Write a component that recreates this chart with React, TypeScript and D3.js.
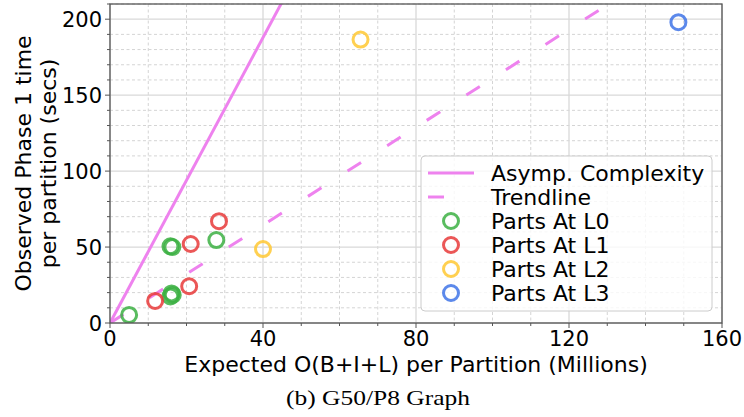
import React, { useEffect, useRef } from "react";
import * as d3 from "d3";

// scatter data (x in millions, y in secs)
const l0X = [5, 15.8, 16.3, 15.8, 16.1, 16.4, 27.8];
const l0Y = [5.3, 50.5, 50, 17.5, 19.5, 18.5, 54.6];
const l1X = [11.8, 20.7, 21.1, 28.5];
const l1Y = [14.5, 24.2, 52, 67];
const l2X = [40, 65.5];
const l2Y = [48.7, 186.6];
const l3X = [148.6];
const l3Y = [198];

// reference lines
const lineX = [0, 149];
const asympY = [0, 700];
const trendY = [0, 240];

const xMajor = [0, 40, 80, 120, 160];
const yMajor = [0, 50, 100, 150, 200];

const seriesNames = ["Parts At L0", "Parts At L1", "Parts At L2", "Parts At L3"];
const seriesColors = ["#3cb043", "#e83a3a", "#ffc832", "#3f74e8"];

const App: React.FC = () => {
  const ref = useRef<SVGSVGElement | null>(null);

  useEffect(() => {
    const el = ref.current;
    if (!el) return;
    const svg = d3.select(el);
    svg.selectAll("*").remove();

    const left = 110;
    const right = 722;
    const top = 4;
    const bottom = 323;
    const font = "DejaVu Sans, sans-serif";

    const x = d3.scaleLinear().domain([0, 160]).range([left, right]);
    const y = d3.scaleLinear().domain([0, 210]).range([bottom, top]);

    svg.append("rect").attr("width", 744).attr("height", 417).attr("fill", "#fff");

    svg
      .append("defs")
      .append("clipPath")
      .attr("id", "plot-clip")
      .append("rect")
      .attr("x", left)
      .attr("y", top)
      .attr("width", right - left)
      .attr("height", bottom - top);

    // grid
    const grid = svg.append("g");
    const xMinor = d3.range(0, 161, 10).filter((v) => !xMajor.includes(v));
    const yMinor = d3.range(0, 211, 10).filter((v) => !yMajor.includes(v));
    grid
      .selectAll("line.xm")
      .data(xMinor)
      .join("line")
      .attr("x1", (d) => x(d))
      .attr("x2", (d) => x(d))
      .attr("y1", top)
      .attr("y2", bottom)
      .attr("stroke", "#d4d4d4")
      .attr("stroke-dasharray", "3,2.5");
    grid
      .selectAll("line.ym")
      .data(yMinor)
      .join("line")
      .attr("x1", left)
      .attr("x2", right)
      .attr("y1", (d) => y(d))
      .attr("y2", (d) => y(d))
      .attr("stroke", "#d4d4d4")
      .attr("stroke-dasharray", "3,2.5");
    grid
      .selectAll("line.xM")
      .data(xMajor)
      .join("line")
      .attr("x1", (d) => x(d))
      .attr("x2", (d) => x(d))
      .attr("y1", top)
      .attr("y2", bottom)
      .attr("stroke", "#d9d9d9")
      .attr("stroke-width", 1.3);
    grid
      .selectAll("line.yM")
      .data(yMajor)
      .join("line")
      .attr("x1", left)
      .attr("x2", right)
      .attr("y1", (d) => y(d))
      .attr("y2", (d) => y(d))
      .attr("stroke", "#d9d9d9")
      .attr("stroke-width", 1.3);

    // lines
    const line = d3
      .line<number>()
      .x((_, i) => x(lineX[i]))
      .y((d) => y(d));
    const plot = svg.append("g").attr("clip-path", "url(#plot-clip)");
    plot
      .append("path")
      .attr("d", line(trendY))
      .attr("fill", "none")
      .attr("stroke", "#ee82ee")
      .attr("stroke-width", 3)
      .attr("stroke-dasharray", "16,31");
    plot
      .append("path")
      .attr("d", line(asympY))
      .attr("fill", "none")
      .attr("stroke", "#ee82ee")
      .attr("stroke-width", 3);

    // points
    const series = [
      [l0X, l0Y],
      [l1X, l1Y],
      [l2X, l2Y],
      [l3X, l3Y],
    ];
    series.forEach(([xs, ys], si) => {
      plot
        .append("g")
        .selectAll("circle")
        .data(xs)
        .join("circle")
        .attr("cx", (d) => x(d))
        .attr("cy", (_, i) => y(ys[i]))
        .attr("r", 7.5)
        .attr("fill", "none")
        .attr("stroke", seriesColors[si])
        .attr("stroke-width", 3)
        .attr("stroke-opacity", 0.85);
    });

    // spines
    svg
      .append("rect")
      .attr("x", left)
      .attr("y", top)
      .attr("width", right - left)
      .attr("height", bottom - top)
      .attr("fill", "none")
      .attr("stroke", "#555")
      .attr("stroke-width", 1.3);

    // ticks
    const ticks = svg.append("g").attr("stroke", "#555");
    xMajor.forEach((v) => {
      ticks.append("line").attr("x1", x(v)).attr("x2", x(v)).attr("y1", bottom).attr("y2", bottom + 5);
    });
    xMinor.forEach((v) => {
      ticks.append("line").attr("x1", x(v)).attr("x2", x(v)).attr("y1", bottom).attr("y2", bottom + 3);
    });
    yMajor.forEach((v) => {
      ticks.append("line").attr("x1", left - 5).attr("x2", left).attr("y1", y(v)).attr("y2", y(v));
    });
    yMinor.forEach((v) => {
      ticks.append("line").attr("x1", left - 3).attr("x2", left).attr("y1", y(v)).attr("y2", y(v));
    });

    svg
      .append("g")
      .selectAll("text")
      .data(xMajor)
      .join("text")
      .attr("x", (d) => x(d))
      .attr("y", 346)
      .attr("text-anchor", "middle")
      .attr("font-family", font)
      .attr("font-size", 21)
      .text((d) => d);
    svg
      .append("g")
      .selectAll("text")
      .data(yMajor)
      .join("text")
      .attr("x", 102)
      .attr("y", (d) => y(d))
      .attr("dy", "0.36em")
      .attr("text-anchor", "end")
      .attr("font-family", font)
      .attr("font-size", 21)
      .text((d) => d);

    // axis labels
    svg
      .append("text")
      .attr("x", (left + right) / 2)
      .attr("y", 372)
      .attr("text-anchor", "middle")
      .attr("font-family", font)
      .attr("font-size", 22)
      .text("Expected O(B+I+L) per Partition (Millions)");
    const yl = svg
      .append("text")
      .attr("transform", `translate(0,${(top + bottom) / 2}) rotate(-90)`)
      .attr("text-anchor", "middle")
      .attr("font-family", font)
      .attr("font-size", 22);
    yl.append("tspan").attr("x", 0).attr("y", 31).text("Observed Phase 1 time");
    yl.append("tspan").attr("x", 0).attr("y", 56).text("per partition (secs)");

    // caption
    svg
      .append("text")
      .attr("x", 378)
      .attr("y", 405)
      .attr("text-anchor", "middle")
      .attr("font-family", "Liberation Serif, serif")
      .attr("font-size", 21)
      .attr("textLength", 184)
      .attr("lengthAdjust", "spacingAndGlyphs")
      .text("(b) G50/P8 Graph");

    // legend
    const lg = svg.append("g");
    lg.append("rect")
      .attr("x", 421)
      .attr("y", 156)
      .attr("width", 291)
      .attr("height", 155)
      .attr("rx", 4)
      .attr("fill", "#fff")
      .attr("fill-opacity", 0.8)
      .attr("stroke", "#ccc");
    const rowY = (i: number) => 173 + i * 24;
    lg.append("line")
      .attr("x1", 428)
      .attr("x2", 474)
      .attr("y1", rowY(0))
      .attr("y2", rowY(0))
      .attr("stroke", "#ee82ee")
      .attr("stroke-width", 3);
    lg.append("line")
      .attr("x1", 428)
      .attr("x2", 474)
      .attr("y1", rowY(1))
      .attr("y2", rowY(1))
      .attr("stroke", "#ee82ee")
      .attr("stroke-width", 3)
      .attr("stroke-dasharray", "16,31");
    seriesNames.forEach((_, i) => {
      lg.append("circle")
        .attr("cx", 451)
        .attr("cy", rowY(i + 2))
        .attr("r", 7.5)
        .attr("fill", "none")
        .attr("stroke", seriesColors[i])
        .attr("stroke-width", 3)
        .attr("stroke-opacity", 0.85);
    });
    const labels = ["Asymp. Complexity", "Trendline", ...seriesNames];
    lg.selectAll("text.lab")
      .data(labels)
      .join("text")
      .attr("x", 491)
      .attr("y", (_, i) => rowY(i))
      .attr("dy", "0.36em")
      .attr("font-family", font)
      .attr("font-size", 22)
      .text((d) => d);
  }, []);

  return (
    <svg
      ref={ref}
      width={744}
      height={417}
      style={{ position: "absolute", left: 0, top: 0, display: "block" }}
    />
  );
};

export default App;
